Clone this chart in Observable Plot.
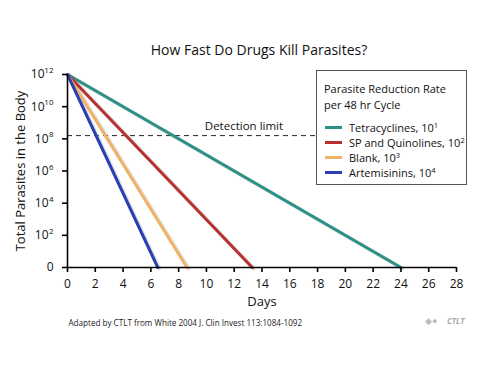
<!DOCTYPE html>
<html>
<head>
<meta charset="utf-8">
<script src="https://cdn.jsdelivr.net/npm/d3@7"></script>
<script src="https://cdn.jsdelivr.net/npm/@observablehq/plot@0.6"></script>
<style>
  body { margin: 0; background: #fff; }
  #wrap { position: relative; width: 500px; height: 375px; background: #fff; font-family: "Open Sans", sans-serif; color: #111; }
  #chart { position: absolute; left: 0; top: 0; }
  #legend { position: absolute; left: 316px; top: 70px; width: 151px; height: 115px; box-sizing: border-box;
            border: 1px solid #555; background: #fff; font-size: 11px; line-height: 15.5px; }
  #legend .ttl { position: absolute; left: 7px; top: 10px; }
  #legend .item { position: absolute; left: 8px; height: 15px; display: flex; align-items: center; white-space: nowrap; }
  #legend .sw { width: 17px; height: 3px; margin-right: 7px; }
  #legend sup { font-size: 7.5px; line-height: 0; vertical-align: 4px; }
</style>
</head>
<body>
<div id="wrap">
  <div id="chart"></div>
  <div id="legend"></div>
</div>
<script>
// ---- data ----
const drugs = ["Tetracyclines", "SP and Quinolines", "Blank", "Artemisinins"];
const rateExponent = [1, 2, 3, 4];          // reduction per 48 hr cycle, 10^n
const clearDay = [24.0, 13.3, 8.6, 6.5];    // day the line reaches the bottom (10^0)
const startLog = 12;                        // 10^12 parasites at day 0
const colors = ["#2a9184", "#b8302f", "#f0b264", "#2a40b4"];
const detectionLimit = 8.2;                 // log10 parasites
const xTicks = [0, 2, 4, 6, 8, 10, 12, 14, 16, 18, 20, 22, 24, 26, 28];
const yTicks = [0, 2, 4, 6, 8, 10, 12];
const title = "How Fast Do Drugs Kill Parasites?";
const xLabel = "Days";
const yLabel = "Total Parasites in the Body";
const detectionLabel = "Detection limit";
const caption = "Adapted by CTLT from White 2004 J. Clin Invest 113:1084-1092";
const legendTitle = ["Parasite Reduction Rate", "per 48 hr Cycle"];

const lineData = drugs.flatMap((d, i) => [
  {drug: d, day: 0, log: startLog},
  {drug: d, day: clearDay[i], log: 0}
]);

const expTwo = yTicks.filter(t => t >= 10);
const expOne = yTicks.filter(t => t > 0 && t < 10);

const font = "Open Sans, sans-serif";

const chart = Plot.plot({
  width: 500,
  height: 375,
  marginLeft: 67,
  marginRight: 44,
  marginTop: 74,
  marginBottom: 108,
  x: {domain: [0, 28], axis: null},
  y: {domain: [0, 12], axis: null},
  color: {domain: drugs, range: colors},
  style: {fontFamily: font, fontSize: "12px", color: "#111", background: "transparent", overflow: "visible"},
  marks: [
    // detection limit
    Plot.ruleY([detectionLimit], {stroke: "#222", strokeWidth: 1, strokeDasharray: "5,4"}),
    Plot.text([detectionLimit], {x: 12.7, y: d => d, dy: -9, text: () => detectionLabel, fontSize: 11.5, fill: "#111"}),
    // soft shadow of lines
    Plot.line(lineData, {x: "day", y: "log", z: "drug", stroke: "#999", strokeWidth: 4, strokeOpacity: 0.3, dx: 1.5, dy: 1}),
    // drug lines
    Plot.line(lineData, {x: "day", y: "log", z: "drug", stroke: "drug", strokeWidth: 3}),
    // axis lines
    Plot.ruleX([0], {y1: 0, y2: 12, stroke: "#000", strokeWidth: 1.6}),
    Plot.ruleY([0], {x1: 0, x2: 28, stroke: "#000", strokeWidth: 1.6}),
    // x axis
    Plot.axisX(xTicks, {tickSize: 5, tickPadding: 7, strokeWidth: 1.6, stroke: "#000", fontSize: 12, label: null}),
    // y axis ticks
    Plot.axisY(yTicks, {tickSize: 5, strokeWidth: 1.6, stroke: "#000", tickFormat: () => "", label: null}),
    // y tick labels: "10" plus superscript exponent
    Plot.text(expTwo, {x: 0, y: d => d, dx: -14, dy: -4, text: d => String(d), textAnchor: "end", fontSize: 8, fill: "#111"}),
    Plot.text(expTwo, {x: 0, y: d => d, dx: -23, text: () => "10", textAnchor: "end", fontSize: 12, fill: "#111"}),
    Plot.text(expOne, {x: 0, y: d => d, dx: -14, dy: -4, text: d => String(d), textAnchor: "end", fontSize: 8, fill: "#111"}),
    Plot.text(expOne, {x: 0, y: d => d, dx: -19, text: () => "10", textAnchor: "end", fontSize: 12, fill: "#111"}),
    Plot.text([0], {x: 0, y: d => d, dx: -14, text: () => "0", textAnchor: "end", fontSize: 12, fill: "#111"}),
    // axis titles
    Plot.text([xLabel], {frameAnchor: "bottom", dy: 38, text: d => d, fontSize: 13, fill: "#111"}),
    Plot.text([yLabel], {frameAnchor: "left", dx: -47, rotate: -90, textAnchor: "middle", text: d => d, fontSize: 13, fill: "#111"}),
    // title
    Plot.text([title], {frameAnchor: "top", dx: -3, dy: -29, text: d => d, fontSize: 14, fill: "#111"}),
    // caption
    Plot.text([caption], {frameAnchor: "bottom-left", dx: 1, dy: 58, text: d => d, textAnchor: "start", fontSize: 8.1, fill: "#222"}),
    // logo text
    Plot.text(["CTLT"], {frameAnchor: "bottom-right", dx: 8, dy: 56, text: d => d, textAnchor: "end", fontSize: 8, fontWeight: "bold", fontStyle: "italic", fill: "#aaa"}),
    Plot.text(["\u25C6\u25CF"], {frameAnchor: "bottom-right", dx: -19, dy: 56, text: d => d, textAnchor: "end", fontSize: 9, fill: "#bbb"})
  ]
});
document.getElementById("chart").appendChild(chart);

// legend
const lg = document.getElementById("legend");
const ttl = document.createElement("div");
ttl.className = "ttl";
ttl.innerHTML = legendTitle.join("<br>");
lg.appendChild(ttl);
drugs.forEach((d, i) => {
  const it = document.createElement("div");
  it.className = "item";
  it.style.top = (49 + i * 15) + "px";
  const sw = document.createElement("span");
  sw.className = "sw";
  sw.style.background = colors[i];
  const tx = document.createElement("span");
  tx.innerHTML = d + ", 10<sup>" + rateExponent[i] + "</sup>";
  it.appendChild(sw);
  it.appendChild(tx);
  lg.appendChild(it);
});
</script>
</body>
</html>
